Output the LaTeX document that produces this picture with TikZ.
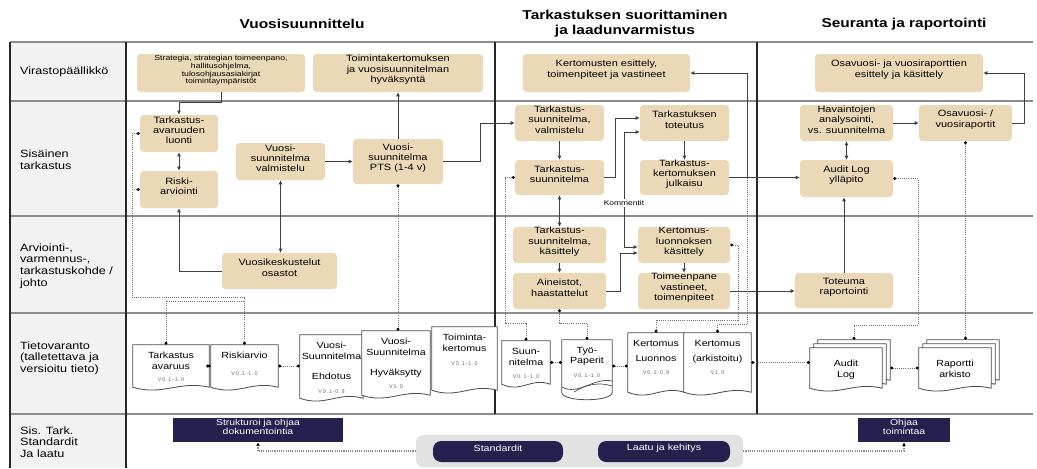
\documentclass[tikz,border=0pt]{standalone}
\usepackage{fontspec}
\setmainfont{Liberation Sans}[FakeStretch=1.2]
\newfontfamily\verfont{Liberation Sans}[LetterSpace=15]
\usepackage{tikz}
\usetikzlibrary{positioning,fit,calc,arrows.meta}
\definecolor{tan}{RGB}{235,216,183}
\definecolor{navy}{RGB}{36,33,78}
\definecolor{lanegray}{RGB}{242,242,242}
\definecolor{bandgray}{RGB}{226,226,226}
\newcommand{\ver}[1]{{\verfont\fontsize{4.6}{6}\selectfont\color{black!60}#1}}
% document symbol: empty area node, wavy outline, text on top
\newcommand{\docbox}[4]{%
  \node[docarea, fit={#2 #3}] (#1) {};
  \draw[docline] (#1.south west) -- (#1.north west) -- (#1.north east) -- (#1.south east)
    .. controls ($(#1.south east)!0.4!(#1.south west)+(0,-7)$)
            and ($(#1.south west)!0.4!(#1.south east)+(0,9)$) .. (#1.south west) -- cycle;
  \node[doctext] (#1-t) at ($(#1.north)+(0,7)$) {#4};}

\begin{document}
\begin{tikzpicture}[x=0.03cm, y=-0.03cm,
    box/.style={fill=tan, rounded corners=3pt, inner sep=0pt, align=center, font=\fontsize{7.8}{8.7}\selectfont},
    navybox/.style={fill=navy, text=white, inner sep=0pt, align=center, font=\fontsize{7.4}{8.4}\selectfont},
    pill/.style={fill=navy, text=white, rounded corners=7pt, inner sep=0pt, font=\fontsize{7.6}{9}\selectfont},
    lane/.style={anchor=west, align=left, font=\fontsize{9}{10}\selectfont},
    head/.style={align=center, font=\fontsize{11}{12.8}\selectfont\bfseries},
    docarea/.style={inner sep=0pt},
    docline/.style={draw=black!70, fill=white, line width=0.7pt},
    doctext/.style={anchor=north, align=center, inner sep=0pt, font=\fontsize{7.6}{9.2}\selectfont},
    link/.style={draw=black!75, line width=0.8pt, -{Latex[length=3.5pt,width=3.5pt]}},
    twoway/.style={link, {Latex[length=3.5pt,width=3.5pt]}-{Latex[length=3.5pt,width=3.5pt]}},
    store/.style={draw=black!55, densely dotted, line width=0.8pt, {Circle[length=2.6pt,color=black]}-{Circle[length=2.6pt,color=black]}},
    storestart/.style={store, {Circle[length=2.6pt,color=black]}-},
    storeend/.style={store, -{Circle[length=2.6pt,color=black]}},
    guide/.style={draw=black!45, densely dotted, line width=0.9pt, -{Latex[length=3pt,width=3pt,color=black]}},
    rowline/.style={draw=black!45, line width=1.2pt},
    colline/.style={draw=black!85, line width=1.3pt}]
  \fill[white] (0,0) rectangle (1037,468);
  \useasboundingbox (0,0) rectangle (1037,468);

  % lanes
  \fill[lanegray] (10,42) rectangle (126,468);
  \foreach \y in {42,101,216,313,414}
    \draw[rowline] (10,\y) -- (1033,\y);
  \draw[colline] (10,42) -- (10,468);
  \draw[colline] (126,42) -- (126,468);
  \draw[colline] (495,42) -- (495,414);
  \draw[colline] (757,42) -- (757,414);

  \node[head] (h1) at (302,24) {Vuosisuunnittelu};
  \node[head] (h2) at (625,24) {Tarkastuksen suorittaminen\\ja laadunvarmistus};
  \node[head] (h3) at (904,24) {Seuranta ja raportointi};

  \node[lane] (l1) at (16,72) {Virastopäällikkö};
  \node[lane] (l2) at (16,160) {Sisäinen\\tarkastus};
  \node[lane] (l3) at (16,266) {Arviointi-,\\varmennus-,\\tarkastuskohde /\\johto};
  \node[lane] (l4) at (16,358) {Tietovaranto\\(talletettava ja\\versioitu tieto)};
  \node[lane] (l5) at (16,442) {Sis. Tark.\\Standardit\\Ja laatu};

  % tasks
  \node[box, fit={(137,54) (305,92)}, font=\fontsize{6.2}{6.6}\selectfont] (strat)
    {Strategia, strategian toimeenpano,\\hallitusohjelma,\\tulosohjausasiakirjat\\toimintaympäristöt};
  \node[box, fit={(313,54) (483,92)}] (hyv) {Toimintakertomuksen\\ja vuosisuunnitelman\\hyväksyntä};
  \node[box, fit={(523,54) (690,92)}] (esit) {Kertomusten esittely,\\toimenpiteet ja vastineet};
  \node[box, fit={(815,54) (983,92)}] (osav) {Osavuosi- ja vuosiraporttien\\esittely ja käsittely};

  \node[box, fit={(140,115) (218,152)}] (avar) {Tarkastus-\\avaruuden\\luonti};
  \node[box, fit={(140,171) (218,208)}] (riski) {Riski-\\arviointi};
  \node[box, fit={(236,143) (325,180)}] (valm) {Vuosi-\\suunnitelma\\valmistelu};
  \node[box, fit={(353,139) (443,184)}] (pts) {Vuosi-\\suunnitelma\\PTS (1-4 v)};
  \node[box, fit={(515,105) (604,141)}] (tsv) {Tarkastus-\\suunnitelma,\\valmistelu};
  \node[box, fit={(515,160) (604,195)}] (ts) {Tarkastus-\\suunnitelma};
  \node[box, fit={(640,105) (729,141)}] (tot) {Tarkastuksen\\toteutus};
  \node[box, fit={(640,160) (729,195)}] (julk) {Tarkastus-\\kertomuksen\\julkaisu};
  \node[box, fit={(800,105) (893,141)}] (hav) {Havaintojen\\analysointi,\\vs. suunnitelma};
  \node[box, fit={(919,105) (1012,141)}] (osr) {Osavuosi- /\\vuosiraportit};
  \node[box, fit={(800,160) (893,197)}] (alog) {Audit Log\\ylläpito};

  \node[box, fit={(222,253) (337,289)}] (vkesk) {Vuosikeskustelut\\osastot};
  \node[box, fit={(513,227) (606,263)}] (tsk) {Tarkastus-\\suunnitelma,\\käsittely};
  \node[box, fit={(513,273) (606,309)}] (aine) {Aineistot,\\haastattelut};
  \node[box, fit={(638,227) (730,263)}] (klk) {Kertomus-\\luonnoksen\\käsittely};
  \node[box, fit={(638,273) (730,309)}] (toim) {Toimeenpane\\vastineet,\\toimenpiteet};
  \node[box, fit={(795,273) (893,308)}] (toteuma) {Toteuma\\raportointi};

  % documents
  \docbox{dtav}{(133,345)}{(209,387)}{Tarkastus\\avaruus\\[1pt]\ver{V0.1-1.0}}
  \docbox{drisk}{(211,345)}{(278,387)}{Riskiarvio\\[5pt]\ver{V0.1-1.0}}
  \docbox{dehd}{(300,335)}{(363,398)}{Vuosi-\\Suunnitelma\\[8pt]Ehdotus\\[3pt]\ver{V0.1-0.9}}
  \docbox{dhyv}{(362,331)}{(430,395)}{Vuosi-\\Suunnitelma\\[8pt]Hyväksytty\\[2pt]\ver{V1.0}}
  \docbox{dtoim}{(432,327)}{(497,390)}{Toiminta-\\kertomus\\[3pt]\ver{V0.1-1.0}}
  \docbox{dsuun}{(502,341)}{(550,384)}{Suun-\\nitelma\\[2pt]\ver{V0.1-1.0}}
  \node[docarea, fit={(562,340) (612,392)}] (dtyo) {};
  \draw[docline] (dtyo.north west) -- (dtyo.south west) .. controls +(0,10) and +(0,10) .. (dtyo.south east) -- (dtyo.north east) -- cycle;
  \draw[black!70, line width=0.6pt] (562,387) .. controls (578,396) and (594,377) .. (612,381);
  \draw[black!70, line width=0.6pt] (574,392) .. controls (586,384) and (600,382) .. (612,386);
  \node[doctext] (dtyo-t) at ($(dtyo.north)+(0,7)$) {Työ-\\Paperit\\[2pt]\ver{V0.1-1.0}};
  \docbox{dklu}{(628,333)}{(684,392)}{Kertomus\\[4pt]Luonnos\\[2pt]\ver{V0.1-0.9}}
  \docbox{dkar}{(684,333)}{(751,392)}{Kertomus\\[4pt](arkistoitu)\\[2pt]\ver{V1.0}}
  \docbox{dalogc}{(818,340)}{(890,380)}{}
  \docbox{dalogb}{(814,344)}{(886,384)}{}
  \docbox{dalog}{(810,348)}{(882,388)}{\\[1pt]Audit\\Log}
  \docbox{draac}{(927,340)}{(999,380)}{}
  \docbox{draab}{(923,344)}{(995,384)}{}
  \docbox{draa}{(919,348)}{(991,388)}{\\[1pt]Raportti\\arkisto}

  % standards
  \node[fill=bandgray, rounded corners=6pt, inner sep=0pt, fit={(416,435) (743,467)}] (band) {};
  \node[pill, fit={(433,441) (563,462)}] (std) {Standardit};
  \node[pill, fit={(598,441) (730,462)}] (laatu) {Laatu ja kehitys};
  \node[navybox, fit={(173,418) (343,442)}] (strukt) {Strukturoi ja ohjaa\\dokumentointia};
  \node[navybox, fit={(858,418) (950,442)}] (ohjaa) {Ohjaa\\toimintaa};
  \draw[guide] (band.west) -| (strukt.south);
  \draw[guide] (band.east) -| (ohjaa.south);

  % flow
  \draw[link] (strat.south) |- ($(avar.north)+(0,-12)$) -- (avar.north);
  \draw[twoway] (avar) -- (riski);
  \draw[link] (vkesk.west) -| (riski.south);
  \draw[twoway] (valm.south) -- (valm.south |- vkesk.north);
  \draw[link] (valm.east) -- (valm.east -| pts.west);
  \draw[link] (pts.north) -- (pts.north |- hyv.south);
  \draw[link] (pts.east) -- ++(37,0) |- (tsv.west);
  \draw[link] (tsv) -- (ts);
  \draw[link] (ts.east) -- ++(11,0) |- ($(tot.west)+(0,-5)$);
  \node[fill=white, inner sep=1pt, font=\fontsize{6}{7}\selectfont] (komm) at (624,203) {Kommentit};
  \draw[link] (komm.north) |- ($(tot.west)+(0,9)$);
  \draw[link] (komm.south) |- ($(klk.west)+(0,2)$);
  \draw[link] (aine.east) -- ++(14,0) |- ($(klk.west)+(0,8)$);
  \draw[link] (tot) -- (julk);
  \coordinate (jturn) at ($(julk.east)+(18,0)$);
  \draw[link] (julk.east) -- (julk.east -| alog.west);
  \draw[link] (jturn) |- (esit.east);
  \draw[twoway] (ts) -- (tsk);
  \draw[link] (tsk) -- (aine);
  \draw[link] (klk) -- (toim);
  \draw[link] (toim.east) -- (toim.east -| toteuma.west);
  \draw[link] (toteuma.north) -- (toteuma.north |- alog.south);
  \draw[twoway] (hav) -- (alog);
  \draw[link] (hav) -- (osr);
  \draw[link] (osr.east) -- ++(12,0) |- (osav.east);

  % storage links
  \draw[store] (pts.south) -- (pts.south |- dhyv.north);
  \draw[store] (avar.west) -| (132,297) -| (drisk.north);
  \draw[storestart] (riski.west) -- ++(-8,0);
  \draw[storestart] ($(dtav.north)+(-5,0)$) |- (244,301);
  \draw[store] (ts.west) -| (505,323) -| (dsuun.north);
  \draw[store] (aine.south) -- ++(0,14) -| (dtyo.north);
  \draw[store] (klk.east) -| (738,320) -| (dklu.north);
  \draw[storeend] (jturn) |- ($(dkar.north)+(0,-8)$) -- (dkar.north);
  \draw[store] (alog.east) -| (918,325) -| (dalogc.north);
  \draw[store] (osr.south) -- (osr.south |- draac.north);
  \draw[store] (dtav.east) -- (drisk.west);
  \draw[store] (drisk.east) -- (drisk.east -| dehd.west);
  \draw[store] (dsuun.east) -- (dsuun.east -| dtyo.west);
  \draw[store] (dtyo.east) -- (dtyo.east -| dklu.west);
  \draw[store] (dkar.east) -- (dkar.east -| dalog.west);
  \draw[store] (dalogc.east |- dalog.east) -- (draa.west);
\end{tikzpicture}
\end{document}
